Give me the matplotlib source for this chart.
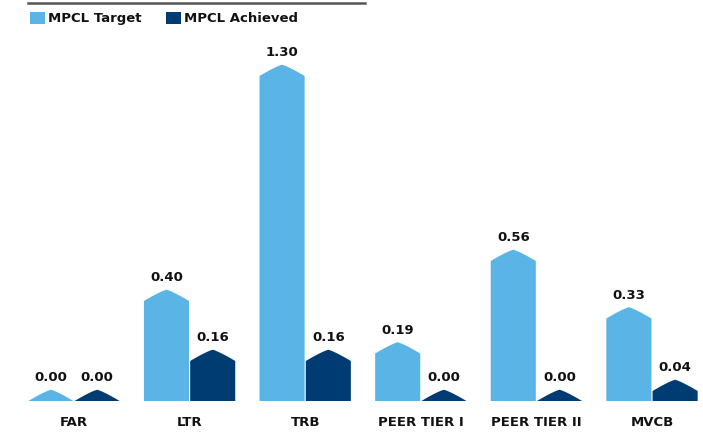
import matplotlib
matplotlib.use("Agg")
import matplotlib.pyplot as plt
from matplotlib.patches import Polygon, Patch
from matplotlib.lines import Line2D
import numpy as np

categories = ["FAR", "LTR", "TRB", "PEER TIER I", "PEER TIER II", "MVCB"]
target = [0.00, 0.40, 1.30, 0.19, 0.56, 0.33]
achieved = [0.00, 0.16, 0.16, 0.00, 0.00, 0.04]
series_names = ["MPCL Target", "MPCL Achieved"]

LIGHT = "#5BB4E6"
DARK = "#003C71"
TEXT = "#111111"

W, H = 703, 432
fig = plt.figure(figsize=(W / 100, H / 100), dpi=100)
ax = fig.add_axes([0, 31 / H, 1, (H - 31 - 40) / H])

x = np.arange(len(categories))
bar_w = 0.39
offset = 0.2
cap = 0.045  # height of the roof on each bar


def roof_bar(ax, xc, v, color):
    half = bar_w / 2
    t = np.linspace(-1, 1, 41)
    roof_x = xc + t * half
    roof_y = v + cap * (1 - np.abs(t) ** 1.2)
    pts = [(xc - half, 0)] + list(zip(roof_x, roof_y)) + [(xc + half, 0)]
    ax.add_patch(Polygon(pts, closed=True, facecolor=color, edgecolor="none"))
    ax.annotate(f"{v:.2f}", (xc, v + cap), xytext=(0, 4), textcoords="offset points",
                ha="center", va="bottom", fontsize=9.5, fontweight="bold", color=TEXT)


for i in range(len(categories)):
    roof_bar(ax, x[i] - offset, target[i], LIGHT)
    roof_bar(ax, x[i] + offset, achieved[i], DARK)

px_per_unit = 115.6
ax.set_xlim((0 - 74) / px_per_unit, (W - 74) / px_per_unit)
ax.set_ylim(0, (H - 31 - 40) / 250)
ax.set_xticks(x)
ax.set_xticklabels(categories, fontsize=9.5, fontweight="bold", color=TEXT)
ax.tick_params(axis="x", length=0, pad=11)
ax.set_yticks([])
for s in ax.spines.values():
    s.set_visible(False)

# rule across the top
fig.add_artist(Line2D([28 / W, 365 / W], [1 - 3 / H, 1 - 3 / H], transform=fig.transFigure,
                      color="#555555", linewidth=1.8))

handles = [Patch(facecolor=LIGHT, edgecolor="none"), Patch(facecolor=DARK, edgecolor="none")]
leg = fig.legend(handles, series_names, loc="center left", bbox_to_anchor=(30 / W, 1 - 18.5 / H),
                 ncol=2, frameon=False, borderpad=0, borderaxespad=0,
                 handlelength=1.1, handleheight=1.0, handletextpad=0.25, columnspacing=1.9,
                 prop={"weight": "bold", "size": 9.5})
for t in leg.get_texts():
    t.set_color(TEXT)

fig.savefig("out.png", dpi=100)
